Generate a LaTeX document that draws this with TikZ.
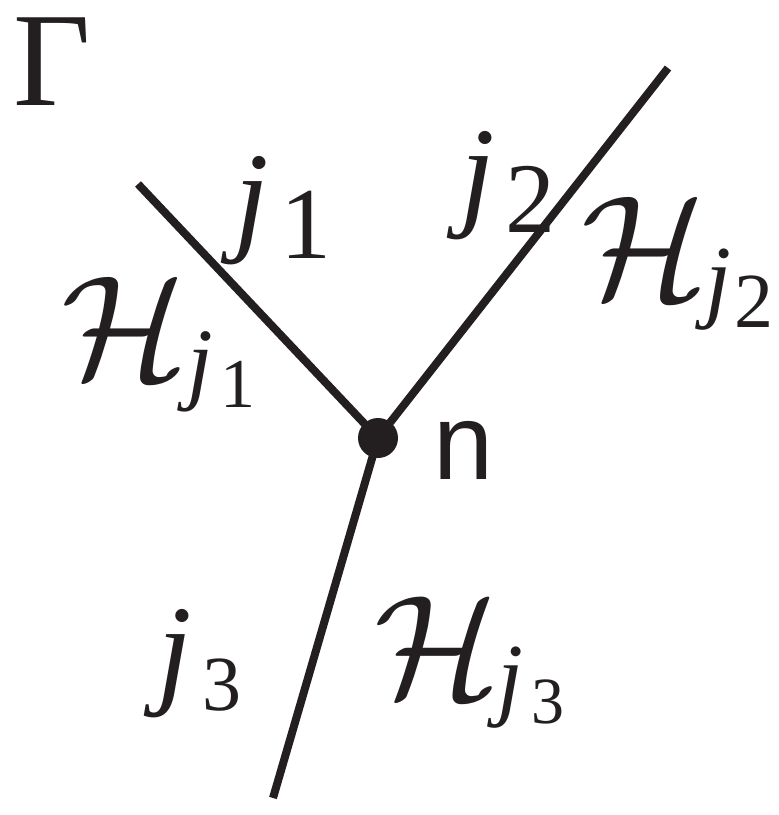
\documentclass[tikz,border=0pt]{standalone}
\usepackage{graphicx}
\usepackage{fontspec}
\setmainfont{Liberation Serif}
\setsansfont{Liberation Sans}
\definecolor{ink}{HTML}{231F20}
\newcommand{\Jit}[2]{\raisebox{-#2pt}{\fontsize{#1}{#1}\selectfont\itshape j}}
\newcommand{\Dig}[3]{\raisebox{-#2pt}{\fontsize{#1}{#1}\selectfont #3}}
\newcommand{\CalH}[1]{\scalebox{#1}{\fontsize{10}{10}\selectfont$\mathcal{H}$}}
\begin{document}
\begin{tikzpicture}[x=1pt,y=-1pt,
  lbl/.style={anchor=base west,inner sep=0pt,outer sep=0pt,text=ink},
  edge/.style={draw=ink,line width=8pt},
  vertex/.style={circle,fill=ink,minimum size=40pt,inner sep=0pt}]
\useasboundingbox[fill=white] (0,0) rectangle (779,815);
\node[vertex] (n) at (378,438) {};
\coordinate (e1) at (138,184);
\coordinate (e2) at (668,68);
\coordinate (e3) at (273,798);
\draw[edge] (e1) -- (n.center);
\draw[edge] (e2) -- (n.center);
\draw[edge] (n.center) -- (e3);
\node[lbl] (gamma) at (13,105) {\fontsize{134}{134}\selectfont Γ};
\node[lbl] (j1) at (234,238) {\Jit{124}{0}\kern12pt\Dig{102}{20}{1}};
\node[lbl] (j2) at (460,213) {\Jit{124}{0}\kern11pt\Dig{100}{19}{2}};
\node[lbl] (j3) at (157,691) {\Jit{124}{0}\kern11pt\Dig{78}{19}{3}};
\node[lbl] (H1) at (61,378) {\CalH{14.8}\kern0pt\Jit{92}{14}\kern8pt\Dig{70}{29}{1}};
\node[lbl] (H2) at (581,298) {\CalH{14.8}\kern-2pt\Jit{93}{12}\kern3pt\Dig{78}{29}{2}};
\node[lbl] (H3) at (374,697) {\CalH{14.7}\kern-2pt\Jit{93}{11}\kern8pt\Dig{66}{26}{3}};
\node[lbl,font=\sffamily\fontsize{108}{108}\selectfont] (nlab) at (433,479) {n};
\end{tikzpicture}
\end{document}
